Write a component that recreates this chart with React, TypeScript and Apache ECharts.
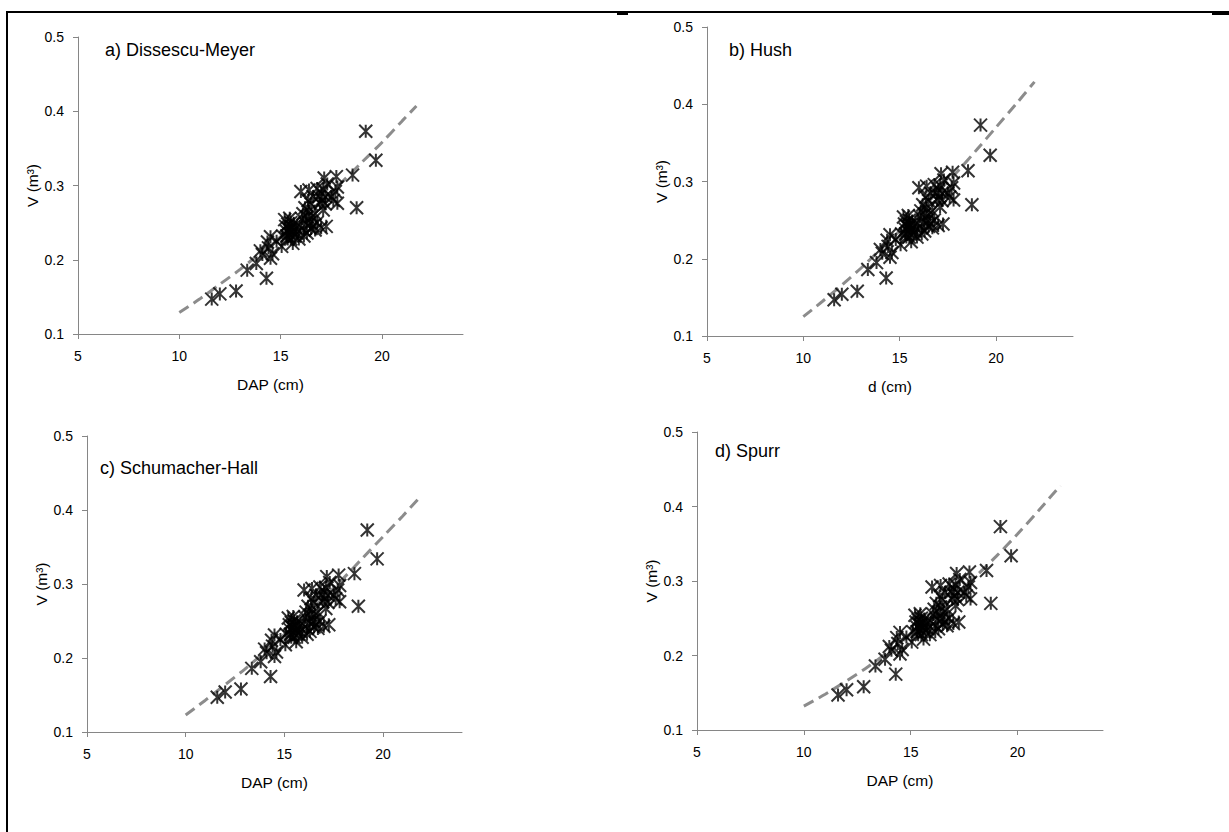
import React, { useEffect, useRef } from "react";
import * as echarts from "echarts";

// Observed trees: diameter (cm) and volume (m³), same data in every panel
const diameters = [
  11.6, 12.0, 12.8, 13.35, 13.8, 14.0, 14.1, 14.3, 14.35, 14.5, 14.5, 14.6, 14.4, 14.8, 15.05, 15.1,
  15.2, 15.25, 15.3, 15.35, 15.4, 15.45, 15.5, 15.5, 15.55, 15.6, 15.6, 15.65, 15.7, 15.75, 15.8, 15.35, 15.45, 15.9, 15.95, 15.3,
  16.0, 16.05, 16.1, 16.15, 16.2, 16.25, 16.3, 16.3, 16.4, 16.4, 16.45, 16.5, 16.5, 16.55, 16.6, 16.6, 16.7, 16.7, 16.8, 16.8, 16.35, 16.15,
  16.9, 16.95, 17.0, 17.0, 17.05, 17.1, 17.15, 17.2, 17.2, 17.25, 17.3, 17.1,
  17.5, 17.6, 17.7, 17.75, 17.8, 17.8,
  18.55, 18.75, 19.2, 19.7,
];
const volumes = [
  0.147, 0.154, 0.158, 0.186, 0.195, 0.212, 0.207, 0.175, 0.224, 0.231, 0.202, 0.208, 0.216, 0.225, 0.218, 0.232,
  0.254, 0.245, 0.238, 0.248, 0.242, 0.235, 0.25, 0.228, 0.244, 0.238, 0.222, 0.249, 0.232, 0.243, 0.236, 0.228, 0.256, 0.228, 0.245, 0.232,
  0.292, 0.255, 0.262, 0.24, 0.27, 0.248, 0.236, 0.258, 0.294, 0.265, 0.25, 0.242, 0.275, 0.258, 0.285, 0.246, 0.262, 0.24, 0.296, 0.25, 0.28, 0.232,
  0.285, 0.276, 0.29, 0.243, 0.28, 0.267, 0.31, 0.285, 0.275, 0.245, 0.302, 0.295,
  0.285, 0.28, 0.292, 0.312, 0.298, 0.276,
  0.314, 0.27, 0.373, 0.334,
];

// Fitted curves
const curveA_d = [10, 11, 12, 13, 14, 15, 16, 17, 18, 19, 20, 21, 21.7];
const curveA_v = [0.129, 0.147, 0.167, 0.187, 0.209, 0.231, 0.254, 0.279, 0.304, 0.331, 0.358, 0.387, 0.407];
const curveB_d = [10, 11, 12, 13, 14, 15, 16, 17, 18, 19, 20, 21, 22];
const curveB_v = [0.125, 0.145, 0.166, 0.188, 0.212, 0.236, 0.261, 0.287, 0.313, 0.341, 0.37, 0.399, 0.429];
const curveC_d = [10, 11, 12, 13, 14, 15, 16, 17, 18, 19, 20, 21, 21.75];
const curveC_v = [0.123, 0.143, 0.164, 0.185, 0.208, 0.232, 0.257, 0.282, 0.308, 0.336, 0.364, 0.392, 0.414];
const curveD_d = [10, 11, 12, 13, 14, 15, 16, 17, 18, 19, 20, 21, 22];
const curveD_v = [0.132, 0.148, 0.166, 0.185, 0.206, 0.228, 0.252, 0.278, 0.305, 0.333, 0.363, 0.395, 0.428];

const panelLabels = ["a) Dissescu-Meyer", "b) Hush", "c) Schumacher-Hall", "d) Spurr"];
const xNames = ["DAP (cm)", "d (cm)", "DAP (cm)", "DAP (cm)"];
const yName = "V (m³)";
const xTicks = [5, 10, 15, 20];
const yTicks = [0.1, 0.2, 0.3, 0.4, 0.5];

const curves = [
  [curveA_d, curveA_v],
  [curveB_d, curveB_v],
  [curveC_d, curveC_v],
  [curveD_d, curveD_v],
];

const FONT = "Liberation Sans, Arial, sans-serif";
const AXIS_GRAY = "#868686";
const STAR = "path://M0 0L12 12M12 0L0 12M6 0L6 12";

const grids = [
  { left: 78, top: 37, width: 385, height: 297 },
  { left: 707, top: 27, width: 366, height: 309 },
  { left: 87, top: 436, width: 375, height: 296 },
  { left: 697, top: 432, width: 406, height: 298 },
];
const labelPos = [
  [105, 52],
  [729, 52],
  [100, 470],
  [715, 453],
];

export default function App() {
  const ref = useRef<HTMLDivElement>(null);
  useEffect(() => {
    if (!ref.current) return;
    const chart = echarts.init(ref.current, null, { renderer: "svg" });
    const points = diameters.map((d, i) => [d, volumes[i]]);
    const option: any = {
      animation: false,
      backgroundColor: "#ffffff",
      textStyle: { fontFamily: FONT },
      grid: grids.map((g) => ({ ...g, containLabel: false })),
      xAxis: grids.map((_, i) => ({
        type: "value",
        gridIndex: i,
        min: 5,
        max: 24,
        interval: 5,
        name: xNames[i],
        nameLocation: "middle",
        nameGap: 42,
        nameTextStyle: { fontSize: 15.5, color: "#000", fontFamily: FONT },
        axisLine: { show: true, onZero: false, lineStyle: { color: AXIS_GRAY, width: 1 } },
        axisTick: { show: true, length: 5, lineStyle: { color: AXIS_GRAY, width: 1 }, customValues: xTicks },
        axisLabel: { fontSize: 14, color: "#000", margin: 15, fontFamily: FONT, customValues: xTicks },
        splitLine: { show: false },
      })),
      yAxis: grids.map((_, i) => ({
        type: "value",
        gridIndex: i,
        min: 0.1,
        max: 0.5,
        interval: 0.1,
        name: yName,
        nameLocation: "middle",
        nameGap: 36,
        nameRotate: 90,
        nameTextStyle: { fontSize: 15.5, color: "#000", fontFamily: FONT },
        axisLine: { show: true, onZero: false, lineStyle: { color: AXIS_GRAY, width: 1 } },
        axisTick: { show: true, length: 5, lineStyle: { color: AXIS_GRAY, width: 1 }, customValues: yTicks },
        axisLabel: {
          fontSize: 14,
          color: "#000",
          margin: 14,
          fontFamily: FONT,
          customValues: yTicks,
          formatter: (v: number) => v.toFixed(1),
        },
        splitLine: { show: false },
      })),
      series: [
        ...curves.map(([ds, vs], i) => ({
          type: "line",
          xAxisIndex: i,
          yAxisIndex: i,
          data: ds.map((d, k) => [d, vs[k]]),
          showSymbol: false,
          symbol: "none",
          smooth: 0.3,
          silent: true,
          z: 1,
          lineStyle: { color: "#8c8c8c", width: 3, type: [11, 6] },
        })),
        ...grids.map((_, i) => ({
          type: "scatter",
          xAxisIndex: i,
          yAxisIndex: i,
          data: points,
          symbol: STAR,
          symbolSize: [13, 13],
          silent: true,
          z: 2,
          itemStyle: { color: "transparent", borderColor: "#000", borderWidth: 2 },
        })),
      ],
      graphic: [
        ...panelLabels.map((t, i) => ({
          type: "text",
          left: labelPos[i][0],
          top: labelPos[i][1] - 11,
          style: { text: t, fontSize: 18, fontFamily: FONT, fill: "#000" },
        })),
        { type: "line", shape: { x1: 7, y1: 12, x2: 1229, y2: 12 }, style: { stroke: "#000", lineWidth: 2 } },
        { type: "line", shape: { x1: 7, y1: 11, x2: 7, y2: 832 }, style: { stroke: "#000", lineWidth: 2 } },
        { type: "rect", shape: { x: 617, y: 11, width: 11, height: 4 }, style: { fill: "#000" } },
        { type: "rect", shape: { x: 1212, y: 11, width: 17, height: 4 }, style: { fill: "#000" } },
      ],
    };
    chart.setOption(option);
    return () => chart.dispose();
  }, []);
  return (
    <div
      ref={ref}
      style={{ position: "fixed", left: 0, top: 0, width: 1229, height: 832, background: "#fff" }}
    />
  );
}
